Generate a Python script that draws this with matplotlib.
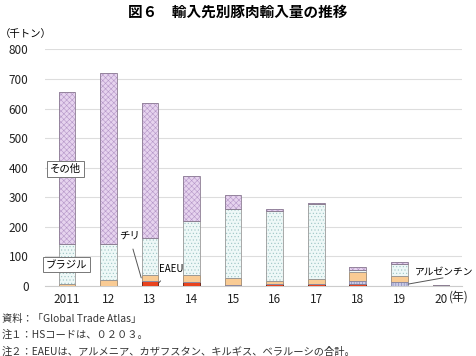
import matplotlib
matplotlib.use("Agg")
import matplotlib.pyplot as plt
import numpy as np

plt.rcParams['font.family'] = ['Noto Sans CJK JP', 'DejaVu Sans']
plt.rcParams['hatch.linewidth'] = 0.4

years = ["2011", "12", "13", "14", "15", "16", "17", "18", "19", "20"]
eaeu      = [0, 0, 17, 13, 2, 5, 8, 6, 0, 4]
argentina = [0, 0, 0, 0, 0, 0, 0, 11, 13, 0]
chile     = [5, 20, 20, 24, 26, 13, 16, 29, 22, 0]
brazil    = [137, 122, 126, 183, 233, 237, 252, 9, 39, 0]
other     = [513, 578, 457, 152, 46, 4, 6, 8, 8, 0]

fig = plt.figure(figsize=(4.76, 3.56), dpi=100)
ax = fig.add_axes([0.095, 0.197, 0.875, 0.664])

x = np.arange(len(years))
w = 0.40
# (values, fill, hatch, hatch colour, edge colour)
series = [
    (eaeu,      '#e8431e', None,     None,      '#5a160a'),
    (argentina, '#c8cae6', '||||||', '#7c7cae', '#8a8aa8'),
    (chile,     '#f9cb94', None,     None,      '#a08a70'),
    (brazil,    '#eef8f7', '.....',  '#9cc4c4', '#9a9a9a'),
    (other,     '#e6d3ee', 'xxxxxx', '#b597c8', '#8a7a92'),
]
bottom = np.zeros(len(years))
for vals, fc, hatch, hc, ec in series:
    v = np.array(vals, dtype=float)
    if hatch:
        ax.bar(x, v, w, bottom=bottom, color=fc, edgecolor=hc, linewidth=0,
               hatch=hatch, zorder=3)
        ax.bar(x, v, w, bottom=bottom, fill=False, edgecolor=ec, linewidth=0.6,
               zorder=4)
    else:
        ax.bar(x, v, w, bottom=bottom, color=fc, edgecolor=ec, linewidth=0.6,
               zorder=3)
    bottom += v

ax.set_ylim(0, 800)
ax.set_xlim(-0.52, 9.5)
ax.set_yticks(range(0, 801, 100))
ax.set_xticks(x)
ax.set_xticklabels(years)
ax.tick_params(axis='both', length=0, labelsize=8.5, colors='#222222')
ax.tick_params(axis='x', pad=5)
ax.tick_params(axis='y', pad=12)
ax.grid(axis='y', color='#dddddd', linewidth=0.8, zorder=0)
for s in ['top', 'right', 'left']:
    ax.spines[s].set_visible(False)
ax.spines['bottom'].set_color('#cccccc')
ax.spines['bottom'].set_linewidth(0.8)

box = dict(boxstyle='square,pad=0.25', fc='white', ec='#777777', lw=0.7)
ax.text(-0.03, 395, 'その他', ha='center', va='center', fontsize=7.5, bbox=box, zorder=6)
ax.text(0.0, 71, 'ブラジル', ha='center', va='center', fontsize=7.5, bbox=box, zorder=6)

ax.annotate('チリ', xy=(1.79, 27), xytext=(1.5, 169), ha='center', va='center',
            fontsize=7.5, arrowprops=dict(arrowstyle='-', color='#555555', lw=0.7,
                                           shrinkA=4, shrinkB=0), zorder=6)
ax.annotate('EAEU', xy=(2.21, 10), xytext=(2.52, 57), ha='center', va='center',
            fontsize=7, arrowprops=dict(arrowstyle='-', color='#555555', lw=0.7,
                                         shrinkA=4, shrinkB=0), zorder=6)
ax.text(9.79, 47, 'アルゼンチン', ha='right', va='center', fontsize=7, zorder=6,
        clip_on=False)
ax.annotate('', xy=(8.21, 6), xytext=(9.05, 27),
            arrowprops=dict(arrowstyle='-', color='#555555', lw=0.7,
                            shrinkA=0, shrinkB=0), zorder=6, annotation_clip=False)

fig.text(0.5, 0.966, '図６　輸入先別豚肉輸入量の推移', ha='center', va='center',
         fontsize=10.5, fontweight='bold')
fig.text(0.0, 0.905, '（千トン）', ha='left', va='center', fontsize=7.5)
fig.text(0.944, 0.166, '(年)', ha='left', va='center', fontsize=8.5, color='#222222')

notes = ['資料：「Global Trade Atlas」',
         '注１：HSコードは、０２０３。',
         '注２：EAEUは、アルメニア、カザフスタン、キルギス、ベラルーシの合計。']
for i, t in enumerate(notes):
    fig.text(0.004, 0.105 - i * 0.046, t, ha='left', va='center', fontsize=7.4, color='#333333')

fig.savefig('out.png', dpi=100)
